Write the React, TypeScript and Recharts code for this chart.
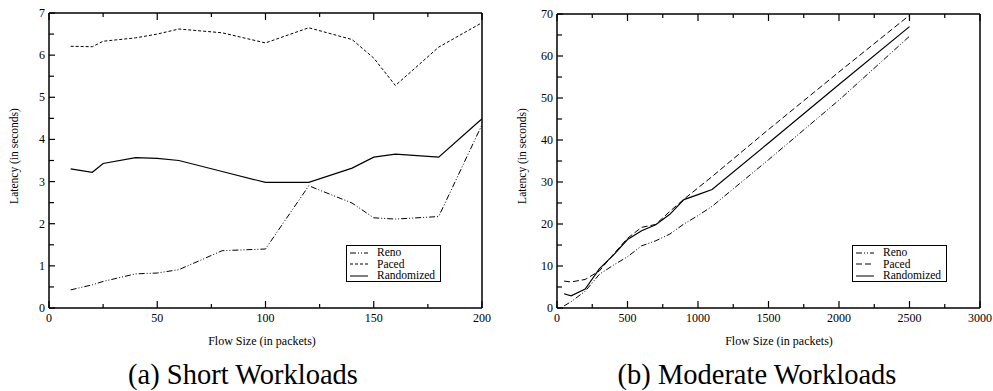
import { LineChart, Line, XAxis, YAxis, Legend } from 'recharts';

// (a) short workloads
const shortSizes = [10, 20, 25, 40, 50, 60, 80, 100, 120, 140, 150, 160, 180, 200];
const shortReno = [0.43, 0.55, 0.63, 0.81, 0.83, 0.91, 1.36, 1.4, 2.9, 2.49, 2.14, 2.11, 2.17, 4.35];
const shortPaced = [6.21, 6.2, 6.33, 6.41, 6.5, 6.62, 6.53, 6.29, 6.65, 6.37, 5.93, 5.28, 6.19, 6.77];
const shortRandomized = [3.3, 3.22, 3.43, 3.57, 3.55, 3.5, 3.24, 2.98, 2.98, 3.32, 3.58, 3.65, 3.58, 4.49];
const shortXTicks = [0, 25, 50, 75, 100, 125, 150, 175, 200];
const shortYTicks = [0, 0.5, 1, 1.5, 2, 2.5, 3, 3.5, 4, 4.5, 5, 5.5, 6, 6.5, 7];

// (b) moderate workloads
const moderateSizes = [50, 100, 200, 300, 400, 500, 600, 700, 800, 900, 1000, 1100, 1500, 2000, 2500];
const moderateReno = [0.5, 1.5, 4.0, 8.0, 10.2, 12.2, 14.8, 16.0, 17.6, 20.0, 22.0, 24.2, 35.3, 49.5, 64.7];
const moderatePaced = [6.4, 6.2, 6.8, 8.8, 12.8, 16.6, 19.2, 19.9, 23.0, 25.9, 28.6, 31.3, 42.5, 56.2, 69.7];
const moderateRandomized = [3.4, 2.9, 4.5, 9.3, 12.6, 16.3, 18.4, 19.8, 22.3, 25.8, 27.0, 28.2, 39.3, 53.2, 67.0];
const moderateXTicks = [0, 250, 500, 750, 1000, 1250, 1500, 1750, 2000, 2250, 2500, 2750, 3000];
const moderateYTicks = [0, 5, 10, 15, 20, 25, 30, 35, 40, 45, 50, 55, 60, 65, 70];

const shortData = shortSizes.map((size, i) => ({
  size, reno: shortReno[i], paced: shortPaced[i], randomized: shortRandomized[i],
}));
const moderateData = moderateSizes.map((size, i) => ({
  size, reno: moderateReno[i], paced: moderatePaced[i], randomized: moderateRandomized[i],
}));

const FONT = '"Liberation Serif", "Times New Roman", serif';
const RENO_DASH = '6 2 1 2 1 2';
const M = 4;

const isMajor = (v: number, step: number) => Math.abs(v / step - Math.round(v / step)) < 1e-6;

const bottomTick = (step: number) => (props: any) => {
  const { x, y, payload } = props;
  const major = isMajor(payload.value, step);
  const ay = y - M;
  return (
    <g>
      <line x1={x} y1={ay} x2={x} y2={ay - (major ? 7 : 4)} stroke="#000" strokeWidth={1.2} />
      {major && (
        <text x={x} y={ay + 14} textAnchor="middle" fontSize={12} fill="#000">{payload.value}</text>
      )}
    </g>
  );
};

const leftTick = (step: number) => (props: any) => {
  const { x, y, payload } = props;
  const major = isMajor(payload.value, step);
  const ax = x + M;
  return (
    <g>
      <line x1={ax} y1={y} x2={ax + (major ? 6 : 5)} y2={y} stroke="#000" strokeWidth={1.2} />
      {major && (
        <text x={ax - 4} y={y + 4} textAnchor="end" fontSize={12} fill="#000">{payload.value}</text>
      )}
    </g>
  );
};

const topTick = (step: number) => (props: any) => {
  const { x, y, payload } = props;
  const major = isMajor(payload.value, step);
  return <line x1={x} y1={y} x2={x} y2={y + (major ? 7 : 4)} stroke="#000" strokeWidth={1.2} />;
};

const rightTick = (step: number) => (props: any) => {
  const { x, y, payload } = props;
  const major = isMajor(payload.value, step);
  return <line x1={x} y1={y} x2={x - (major ? 6 : 5)} y2={y} stroke="#000" strokeWidth={1.2} />;
};

const makeLegend = (pacedDash: string) => () => {
  const rows = [
    { name: 'Reno', dash: RENO_DASH },
    { name: 'Paced', dash: pacedDash },
    { name: 'Randomized', dash: undefined },
  ];
  return (
    <div style={{ border: '1px solid #000', background: '#fff', width: 95, height: 37, boxSizing: 'border-box', padding: '1px 0 0 3px', fontFamily: FONT, fontSize: 11.5, color: '#000' }}>
      {rows.map((r) => (
        <div key={r.name} style={{ display: 'flex', alignItems: 'center', height: 11.5, lineHeight: '11.5px' }}>
          <svg width={18} height={6} style={{ display: 'block' }}>
            <line x1={0} y1={3} x2={18} y2={3} stroke="#000" strokeWidth={1} strokeDasharray={r.dash} />
          </svg>
          <span style={{ marginLeft: 9 }}>{r.name}</span>
        </div>
      ))}
    </div>
  );
};

const axisLine = { stroke: '#000', strokeWidth: 1.5 };

function Panel(props: {
  data: any[]; width: number; yWidth: number; xDomain: [number, number]; yDomain: [number, number];
  xTicks: number[]; yTicks: number[]; xStep: number; yStep: number; top: number; right: number; pacedDash: string; legendLeft: number;
}) {
  const { data, width, yWidth, xDomain, yDomain, xTicks, yTicks, xStep, yStep, top, right, pacedDash, legendLeft } = props;
  return (
    <LineChart width={width} height={340} data={data} margin={{ top: 0, right, bottom: 12, left: 0 }}>
      <XAxis dataKey="size" type="number" domain={xDomain} ticks={xTicks} interval={0} height={20}
        tickSize={0} tickMargin={M} axisLine={axisLine} tickLine={false} tick={bottomTick(xStep)} />
      <XAxis xAxisId="top" orientation="top" dataKey="size" type="number" domain={xDomain} ticks={xTicks} interval={0}
        height={top} tickSize={0} tickMargin={0} axisLine={axisLine} tickLine={false} tick={topTick(xStep)} />
      <YAxis type="number" domain={yDomain} ticks={yTicks} interval={0} width={yWidth}
        tickSize={0} tickMargin={M} axisLine={axisLine} tickLine={false} tick={leftTick(yStep)} />
      <YAxis yAxisId="right" orientation="right" type="number" domain={yDomain} ticks={yTicks} interval={0} width={8}
        tickSize={0} tickMargin={0} axisLine={axisLine} tickLine={false} tick={rightTick(yStep)} />
      <Legend layout="vertical" align="center" verticalAlign="middle" content={makeLegend(pacedDash)}
        wrapperStyle={{ position: 'absolute', left: legendLeft, top: 245, width: 95, height: 37 }} />
      <Line dataKey="reno" name="Reno" type="linear" stroke="#000" strokeWidth={1} strokeDasharray={RENO_DASH} dot={false} isAnimationActive={false} />
      <Line dataKey="paced" name="Paced" type="linear" stroke="#000" strokeWidth={1} strokeDasharray={pacedDash} dot={false} isAnimationActive={false} />
      <Line dataKey="randomized" name="Randomized" type="linear" stroke="#000" strokeWidth={1.2} dot={false} isAnimationActive={false} />
    </LineChart>
  );
}

const abs = (left: number, top: number): React.CSSProperties => ({ position: 'absolute', left, top, lineHeight: 1, whiteSpace: 'nowrap' });

export default function App() {
  return (
    <div style={{ position: 'absolute', left: 0, top: 0, width: 993, height: 391, background: '#fff', fontFamily: FONT, color: '#000' }}>
      <style>{'.recharts-surface { overflow: visible; }'}</style>
      <div style={{ position: 'absolute', left: 0, top: 0 }}>
        <Panel data={shortData} width={490} yWidth={49} xDomain={[0, 200]} yDomain={[0, 7]} xTicks={shortXTicks}
          yTicks={shortYTicks} xStep={50} yStep={1} top={13} right={0} pacedDash="3 2" legendLeft={346} />
      </div>
      <div style={{ position: 'absolute', left: 490, top: 0 }}>
        <Panel data={moderateData} width={503} yWidth={67} xDomain={[0, 3000]} yDomain={[0, 70]} xTicks={moderateXTicks}
          yTicks={moderateYTicks} xStep={500} yStep={10} top={14} right={5} pacedDash="6 3" legendLeft={362} />
      </div>

      <div style={{ ...abs(15, 156), transform: 'translate(-50%, -50%) rotate(-90deg)', fontSize: 11.5 }}>Latency (in seconds)</div>
      <div style={{ ...abs(523, 156), transform: 'translate(-50%, -50%) rotate(-90deg)', fontSize: 11.5 }}>Latency (in seconds)</div>

      <div style={{ ...abs(262, 335), transform: 'translateX(-50%)', fontSize: 12 }}>Flow Size (in packets)</div>
      <div style={{ ...abs(779, 335), transform: 'translateX(-50%)', fontSize: 12 }}>Flow Size (in packets)</div>

      <div style={{ ...abs(243, 361), transform: 'translateX(-50%)', fontSize: 28.5 }}>(a) Short Workloads</div>
      <div style={{ ...abs(757, 361), transform: 'translateX(-50%)', fontSize: 28.5 }}>(b) Moderate Workloads</div>
    </div>
  );
}
